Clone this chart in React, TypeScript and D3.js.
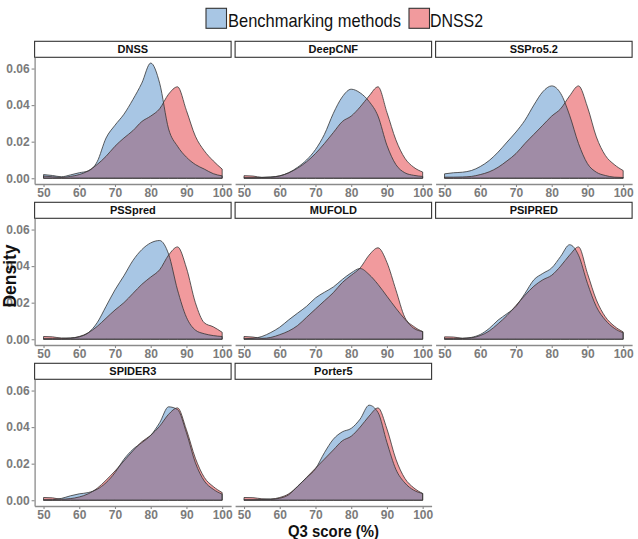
import React, { useEffect, useRef } from "react";
import * as d3 from "d3";

// Q3 score grid (%) the densities were evaluated on
const scores = [50, 52.5, 55, 57.5, 60, 62.5, 65, 67.5, 70, 72.5, 75, 77.5, 80, 82.5, 85, 87.5, 90, 92.5, 95, 97.5, 100];

const methods = ["DNSS", "DeepCNF", "SSPro5.2", "PSSpred", "MUFOLD", "PSIPRED", "SPIDER3", "Porter5"];

// density of the benchmarking method, one row per facet
const benchmarkDensity = [
  [0.002, 0.0015, 0.0008, 0.0018, 0.003, 0.004, 0.009, 0.022, 0.029, 0.035, 0.043, 0.052, 0.063, 0.052, 0.027, 0.0175, 0.0115, 0.0075, 0.005, 0.0025, 0.0013],
  [0.0003, 0.0003, 0.0004, 0.0007, 0.0013, 0.003, 0.006, 0.01, 0.0157, 0.024, 0.0355, 0.0445, 0.0487, 0.0467, 0.042, 0.034, 0.018, 0.0075, 0.003, 0.0016, 0.001],
  [0.0024, 0.003, 0.0033, 0.0042, 0.0064, 0.0097, 0.0143, 0.0198, 0.0253, 0.0317, 0.04, 0.0473, 0.0505, 0.0464, 0.0345, 0.019, 0.008, 0.0033, 0.0015, 0.0006, 0.0004],
  [0.0003, 0.0003, 0.0003, 0.0006, 0.0013, 0.0035, 0.009, 0.018, 0.027, 0.0347, 0.043, 0.049, 0.0527, 0.054, 0.0466, 0.027, 0.012, 0.005, 0.003, 0.002, 0.0015],
  [0.0003, 0.0005, 0.0015, 0.0037, 0.0066, 0.0106, 0.0143, 0.018, 0.0226, 0.0257, 0.0286, 0.0327, 0.0363, 0.0387, 0.0354, 0.03, 0.0235, 0.017, 0.011, 0.006, 0.0042],
  [0.0003, 0.0003, 0.0004, 0.001, 0.0026, 0.0059, 0.0105, 0.014, 0.018, 0.025, 0.0325, 0.036, 0.039, 0.0453, 0.0517, 0.046, 0.0306, 0.0178, 0.0105, 0.006, 0.0035],
  [0.0003, 0.0003, 0.001, 0.0024, 0.0035, 0.0042, 0.006, 0.0096, 0.0151, 0.0224, 0.0278, 0.0315, 0.0355, 0.0424, 0.0511, 0.0496, 0.0369, 0.0205, 0.0105, 0.006, 0.0033],
  [0.0003, 0.0003, 0.0004, 0.0005, 0.0011, 0.003, 0.0077, 0.0123, 0.0172, 0.026, 0.0334, 0.0374, 0.0393, 0.0444, 0.052, 0.048, 0.0316, 0.0169, 0.0095, 0.0055, 0.0037],
];

// density of DNSS2 on the same protein set, one row per facet
const dnss2Density = [
  [0.0012, 0.0008, 0.0005, 0.001, 0.002, 0.004, 0.0075, 0.012, 0.0175, 0.022, 0.026, 0.031, 0.034, 0.038, 0.046, 0.05, 0.037, 0.023, 0.015, 0.0095, 0.005],
  [0.0014, 0.0012, 0.0005, 0.0006, 0.0013, 0.003, 0.0055, 0.009, 0.0135, 0.019, 0.025, 0.031, 0.034, 0.039, 0.045, 0.05, 0.036, 0.021, 0.011, 0.006, 0.0034],
  [0.0006, 0.0006, 0.0007, 0.001, 0.002, 0.0035, 0.006, 0.0095, 0.0135, 0.019, 0.024, 0.029, 0.034, 0.038, 0.045, 0.0505, 0.039, 0.0226, 0.0125, 0.0075, 0.0042],
  [0.0015, 0.0013, 0.0007, 0.0007, 0.0015, 0.0035, 0.007, 0.0115, 0.016, 0.02, 0.025, 0.03, 0.034, 0.038, 0.046, 0.0505, 0.039, 0.02, 0.009, 0.0068, 0.0038],
  [0.0015, 0.0012, 0.0005, 0.001, 0.0025, 0.0045, 0.0075, 0.012, 0.0165, 0.021, 0.0255, 0.031, 0.035, 0.039, 0.046, 0.05, 0.042, 0.027, 0.012, 0.007, 0.0042],
  [0.0013, 0.0012, 0.0006, 0.0008, 0.002, 0.0045, 0.0085, 0.013, 0.0185, 0.024, 0.029, 0.0325, 0.035, 0.04, 0.046, 0.0505, 0.036, 0.0215, 0.0123, 0.0072, 0.004],
  [0.0015, 0.0013, 0.0006, 0.0009, 0.0018, 0.0035, 0.0065, 0.011, 0.016, 0.0215, 0.027, 0.032, 0.0355, 0.0405, 0.047, 0.0505, 0.0385, 0.023, 0.0125, 0.0075, 0.0042],
  [0.0015, 0.0014, 0.0008, 0.0007, 0.0015, 0.0035, 0.0075, 0.0125, 0.0175, 0.0225, 0.0275, 0.0325, 0.035, 0.04, 0.046, 0.0505, 0.039, 0.0225, 0.012, 0.0068, 0.0037],
];

const xTicks = [50, 60, 70, 80, 90, 100];
const yTicks = [0, 0.02, 0.04, 0.06];
const legendLabels = ["Benchmarking methods", "DNSS2"];

const FONT = "'Liberation Sans', Arial, Helvetica, sans-serif";
const BLUE = "#a8c6e4";
const RED = "#f19a9d";
const OVERLAP = "#a08ca6";
const OUTLINE = "#353535";
const AXIS_GREY = "#8a8a8a";

const App = () => {
  const svgRef = useRef<SVGSVGElement>(null);

  useEffect(() => {
    drawFacets(svgRef.current);
  }, []);

  return (
    <svg
      ref={svgRef}
      width={638}
      height={539}
      style={{ position: "absolute", left: 0, top: 0, background: "#fff" }}
    />
  );
};

const drawFacets = (el: SVGSVGElement | null) => {
  if (!el) return;
  const svg = d3.select(el);
  svg.selectAll("*").remove();
  const defs = svg.append("defs");

  const panelW = 196.5, panelH = 126.7, stripH = 16;
  const left0 = 34.6, colStep = 200.5, top0 = 41.3, rowStep = 161;

  const yMax = d3.max([...benchmarkDensity, ...dnss2Density].flat()) as number;
  const [xMin, xMax] = d3.extent(scores) as [number, number];
  const xPad = (xMax - xMin) * 0.05;

  methods.forEach((name, i) => {
    const col = i % 3;
    const row = Math.floor(i / 3);
    const px = left0 + col * colStep;
    const sy = top0 + row * rowStep;
    const py = sy + stripH;

    const x = d3.scaleLinear().domain([xMin - xPad, xMax + xPad]).range([px, px + panelW]);
    const y = d3.scaleLinear().domain([-0.05 * yMax, 1.05 * yMax]).range([py + panelH, py]);

    const area = d3.area<[number, number]>()
      .x(d => x(d[0]))
      .y0(y(0))
      .y1(d => y(d[1]))
      .curve(d3.curveMonotoneX);

    const bench = scores.map((s, k) => [s, benchmarkDensity[i][k]] as [number, number]);
    const dnss2 = scores.map((s, k) => [s, dnss2Density[i][k]] as [number, number]);

    const g = svg.append("g");

    // overlap region = DNSS2 area clipped to the benchmark area
    const clipId = `bench-clip-${i}`;
    defs.append("clipPath").attr("id", clipId).append("path").attr("d", area(bench));

    g.append("path").attr("d", area(bench)).attr("fill", BLUE);
    g.append("path").attr("d", area(dnss2)).attr("fill", RED);
    g.append("path").attr("d", area(dnss2)).attr("fill", OVERLAP).attr("clip-path", `url(#${clipId})`);

    [bench, dnss2].forEach(pts => {
      g.append("path")
        .attr("d", area(pts))
        .attr("fill", "none")
        .attr("stroke", OUTLINE)
        .attr("stroke-width", 0.8)
        .attr("stroke-linejoin", "round");
    });

    // facet strip
    g.append("rect")
      .attr("x", px).attr("y", sy)
      .attr("width", panelW).attr("height", stripH)
      .attr("fill", "#fff").attr("stroke", "#333").attr("stroke-width", 1.1);
    g.append("text")
      .attr("x", px + panelW / 2).attr("y", sy + 12)
      .attr("text-anchor", "middle")
      .style("font-family", FONT).style("font-weight", "bold").style("font-size", "11px")
      .attr("fill", "#111")
      .text(name);

    // x axis under every panel
    const xAxis = g.append("g")
      .attr("transform", `translate(0,${py + panelH})`)
      .call(d3.axisBottom(x).tickValues(xTicks).tickSize(3).tickSizeOuter(0).tickPadding(1));
    styleAxis(xAxis);

    // y axis on the first column only
    if (col === 0) {
      const yAxis = g.append("g")
        .attr("transform", `translate(${px},0)`)
        .call(d3.axisLeft(y).tickValues(yTicks).tickFormat(d3.format(".2f")).tickSize(3).tickSizeOuter(0).tickPadding(2));
      styleAxis(yAxis);
    }
  });

  // legend
  const legend = svg.append("g");
  const keys = [
    { x: 206, fill: BLUE, textX: 228, width: 173 },
    { x: 409, fill: RED, textX: 430, width: 53 },
  ];
  keys.forEach((k, i) => {
    legend.append("rect")
      .attr("x", k.x).attr("y", 8.3).attr("width", 20.5).attr("height", 20)
      .attr("fill", k.fill).attr("stroke", "#333").attr("stroke-width", 1.1);
    legend.append("text")
      .attr("x", k.textX).attr("y", 26.5)
      .attr("textLength", k.width).attr("lengthAdjust", "spacingAndGlyphs")
      .style("font-family", FONT).style("font-size", "18.5px")
      .attr("fill", "#111")
      .text(legendLabels[i]);
  });

  // axis titles
  svg.append("text")
    .attr("x", 333.5).attr("y", 537)
    .attr("text-anchor", "middle")
    .attr("textLength", 91).attr("lengthAdjust", "spacingAndGlyphs")
    .style("font-family", FONT).style("font-weight", "bold").style("font-size", "16px")
    .attr("fill", "#111")
    .text("Q3 score (%)");

  svg.append("text")
    .attr("transform", "translate(15.5,276) rotate(-90)")
    .attr("text-anchor", "middle")
    .style("font-family", FONT).style("font-weight", "bold").style("font-size", "17.5px")
    .attr("fill", "#111")
    .text("Density");
};

const styleAxis = (axis: d3.Selection<SVGGElement, unknown, null, undefined>) => {
  axis.select(".domain").attr("stroke", AXIS_GREY).attr("stroke-width", 1.3);
  axis.selectAll(".tick line").attr("stroke", AXIS_GREY).attr("stroke-width", 1.1);
  axis.selectAll(".tick text")
    .attr("fill", "#7b7b7b")
    .style("font-family", FONT)
    .style("font-weight", "bold")
    .style("font-size", "12px");
};

export default App;
